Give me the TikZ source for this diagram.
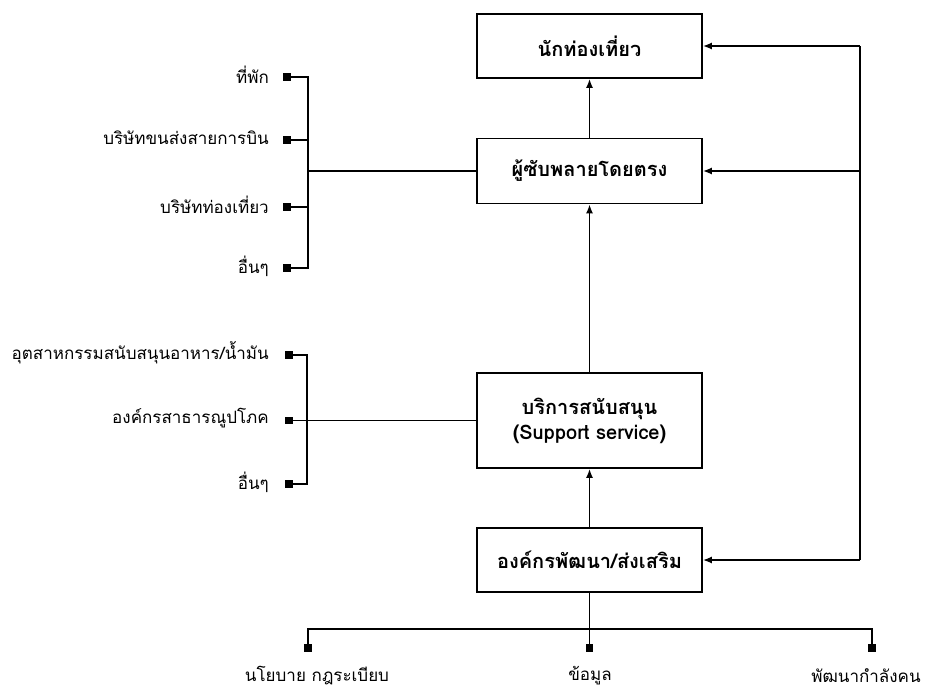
\documentclass[tikz,border=0pt]{standalone}
\usepackage{fontspec}
\newfontfamily\thaifont[Script=Thai]{Loma}
\usetikzlibrary{arrows.meta}
\begin{document}
\begin{tikzpicture}[x=1pt,y=-1pt, font=\thaifont]
\tikzset{
  box/.style={draw, line width=1.8pt, minimum width=225pt, font=\thaifont\bfseries\fontsize{20}{25}\selectfont, align=center, inner sep=0pt},
  lbl/.style={anchor=east, font=\thaifont\fontsize{17}{20}\selectfont, inner sep=0pt},
  blbl/.style={font=\thaifont\fontsize{17}{20}\selectfont, inner sep=0pt},
  sq/.style={fill, minimum size=7.5pt, inner sep=0pt},
  conn/.style={line width=1.5pt},
  arr/.style={conn, -{Latex[length=9pt,width=7pt]}}
}
\useasboundingbox (0,0) rectangle (928,691);

% main boxes
\node[box, minimum height=64pt] (b1) at (589.5,46) {นักท่องเที่ยว};
\node[box, minimum height=65pt] (b2) at (589.5,171) {ผู้ซับพลายโดยตรง};
\node[box, minimum height=95pt] (b3) at (589.5,420.5) {บริการสนับสนุน\\(Support service)};
\node[box, minimum height=64pt] (b4) at (589.5,560) {องค์กรพัฒนา/ส่งเสริม};

\draw[arr] (b2) -- (b1);
\draw[arr] (b3) -- (b2);
\draw[arr] (b4) -- (b3);

% right feedback line
\coordinate (r1) at (860,46);
\coordinate (r4) at (860,560);
\draw[conn] (r1) -- (r4);
\draw[arr] (r1) -- (b1.east);
\draw[arr] (r1 |- b2.east) -- (b2.east);
\draw[arr] (r4) -- (b4.east);

% left group 1
\node[sq] (s1) at (287,77) {};
\node[sq] (s2) at (287,140) {};
\node[sq] (s3) at (287,207) {};
\node[sq] (s4) at (287,268) {};
\coordinate (k1) at (308,171);
\draw[conn] (s1) -- (s1 -| k1) -- (s4 -| k1) -- (s4);
\draw[conn] (s2) -- (s2 -| k1);
\draw[conn] (s3) -- (s3 -| k1);
\draw[conn] (k1) -- (b2.west);
\node[lbl] (l1) at (269,75) {ที่พัก};
\node[lbl] (l2) at (269,138) {บริษัทขนส่งสายการบิน};
\node[lbl] (l3) at (269,205) {บริษัทท่องเที่ยว};
\node[lbl] (l4) at (269,266) {อื่นๆ};

% left group 2
\node[sq] (u1) at (289,355) {};
\node[sq] (u2) at (289,420.5) {};
\node[sq] (u3) at (289,484) {};
\coordinate (k2) at (307,420.5);
\draw[conn] (u1) -- (u1 -| k2) -- (u3 -| k2) -- (u3);
\draw[conn] (u2) -- (b3.west);
\node[lbl] (m1) at (269,353) {อุตสาหกรรมสนับสนุนอาหาร/น้ำมัน};
\node[lbl] (m2) at (269,418) {องค์กรสาธารณูปโภค};
\node[lbl] (m3) at (269,482) {อื่นๆ};

% bottom group
\coordinate (mid) at (589.5,629);
\node[sq] (t1) at (308,648) {};
\node[sq] (t2) at (589.5,648) {};
\node[sq] (t3) at (872,648) {};
\draw[conn] (t1) -- (t1 |- mid) -- (t3 |- mid) -- (t3);
\draw[conn] (t2) -- (b4.south);
\node[blbl] (n1) at (317,676) {นโยบาย กฎระเบียบ};
\node[blbl] (n2) at (590,676) {ข้อมูล};
\node[blbl] (n3) at (866,676) {พัฒนากำลังคน};
\end{tikzpicture}
\end{document}
